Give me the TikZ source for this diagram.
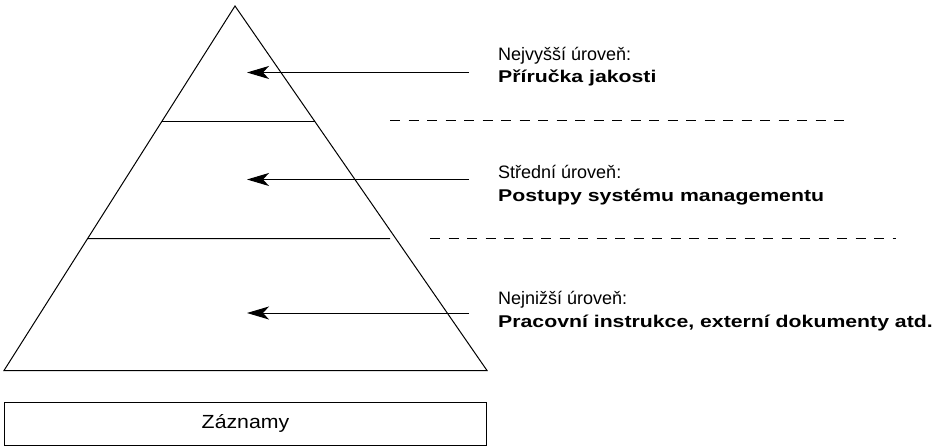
\documentclass[tikz,border=0pt]{standalone}
\usepackage{fontspec}
\setmainfont{Liberation Sans}
\newfontfamily\widebold{Liberation Sans Bold}[FakeStretch=1.25]
\newfontfamily\widereg{Liberation Sans}[FakeStretch=1.12]
\usetikzlibrary{arrows.meta,calc}
\begin{document}
\begin{tikzpicture}[x=1pt,y=-1pt,
  shape line/.style={line width=1pt, line join=miter},
  level arrow/.style={line width=1pt, -{Stealth[length=22pt,width=13pt,inset=6pt]}},
  sep line/.style={line width=1pt, dash pattern=on 10pt off 8.5pt},
  lbl/.style={anchor=base west, inner sep=0pt, font=\fontsize{18}{23}\selectfont},
  lblb/.style={anchor=base west, inner sep=0pt, font=\fontsize{17}{23}\widebold}]
\useasboundingbox (0,0) rectangle (941,446);
% pyramid
\coordinate (apex) at (235,6);
\coordinate (bl) at (4,370.5);
\coordinate (br) at (487,370.5);
\draw[shape line] (apex) -- (bl) -- (br) -- cycle;
\draw[shape line] ($(apex)!{115/364.5}!(bl)$) -- ($(apex)!{115/364.5}!(br)$);
\draw[shape line] ($(apex)!{232.5/364.5}!(bl)$) -- (390,238.5);
% records box
\node[draw, line width=1pt, minimum width=482pt, minimum height=43pt, inner sep=0pt,
      anchor=north west, font=\fontsize{19}{23}\widereg] (rec) at (4,401.5) {Záznamy};
% labels
\node[lbl] (t1a) at (498,61) {Nejvyšší úroveň:};
\node[lblb] (t1b) at (498,83) {Příručka jakosti};
\node[lbl] (t2a) at (498,179) {Střední úroveň:};
\node[lblb] (t2b) at (498,202) {Postupy systému managementu};
\node[lbl] (t3a) at (498,304) {Nejnižší úroveň:};
\node[lblb] (t3b) at (498,327) {Pracovní instrukce, externí dokumenty atd.};
% arrows
\coordinate (a1s) at (469,72.5);  \coordinate (a1e) at (247,72.5);
\coordinate (a2s) at (469,179.5); \coordinate (a2e) at (247,179.5);
\coordinate (a3s) at (469,313);   \coordinate (a3e) at (247,313);
\draw[level arrow] (a1s) -- (a1e);
\draw[level arrow] (a2s) -- (a2e);
\draw[level arrow] (a3s) -- (a3e);
% dashed separators
\coordinate (d1s) at (390,120.5); \coordinate (d1e) at (848,120.5);
\coordinate (d2s) at (430,238.5); \coordinate (d2e) at (896,238.5);
\draw[sep line] (d1s) -- (d1e);
\draw[sep line] (d2s) -- (d2e);
\end{tikzpicture}
\end{document}
